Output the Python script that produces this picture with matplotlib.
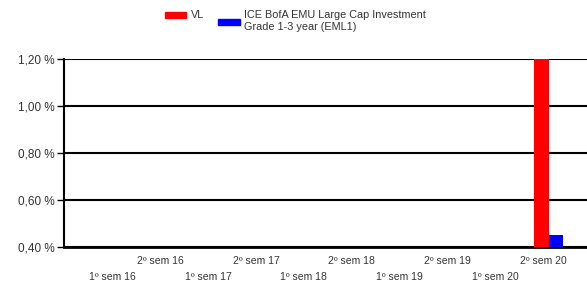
import matplotlib
matplotlib.use("Agg")
import matplotlib.pyplot as plt
from matplotlib.patches import Rectangle
import numpy as np

categories = ["1º sem 16", "2º sem 16", "1º sem 17", "2º sem 17", "1º sem 18",
              "2º sem 18", "1º sem 19", "2º sem 19", "1º sem 20", "2º sem 20"]
vl = [None, None, None, None, None, None, None, None, None, 1.25]
bench = [None, None, None, None, None, None, None, None, None, 0.45]
yticks = [0.40, 0.60, 0.80, 1.00, 1.20]
ytick_labels = ["0,40 %", "0,60 %", "0,80 %", "1,00 %", "1,20 %"]
series_names = ["VL", "ICE BofA EMU Large Cap Investment\nGrade 1-3 year (EML1)"]
colors = ["#ff0000", "#0000ff"]

plt.rcParams['font.family'] = ['Liberation Sans', 'DejaVu Sans']
fig = plt.figure(figsize=(5.87, 2.84), dpi=100)
ax = fig.add_axes([64/587, 1 - 246.7/284, 1 - 64/587, (246.7 - 59)/284])

x = np.arange(len(categories))
w = 0.3
for i in range(len(categories)):
    if vl[i] is not None:
        ax.bar(x[i] - 0.05, vl[i] - 0.40, w, bottom=0.40, color=colors[0], zorder=3)
    if bench[i] is not None:
        ax.bar(x[i] + 0.25, bench[i] - 0.40, w, bottom=0.40, color=colors[1], zorder=3)

ax.set_ylim(0.40, 1.20)
ax.set_xlim(-1, 9.9)
ax.set_yticks(yticks)
ax.set_yticklabels(ytick_labels, fontsize=8.5, color="#333333")
ax.tick_params(axis='y', length=5, width=1, color='black', pad=2)
for yv in yticks:
    ax.axhline(yv, color='black', lw=1.5, zorder=2)

ax.set_xticks(x[0::2])
ax.set_xticklabels(categories[0::2], fontsize=7.5, color="#333333")
ax.set_xticks(x[1::2], minor=True)
ax.set_xticklabels(categories[1::2], minor=True, fontsize=7.5, color="#333333")
ax.tick_params(axis='x', which='major', length=0, pad=18.5)
ax.tick_params(axis='x', which='minor', length=0, pad=7)

for s in ['top', 'right']:
    ax.spines[s].set_visible(False)
ax.spines['left'].set_linewidth(1.5)
ax.spines['bottom'].set_linewidth(2)

# legend
fig.patches.append(Rectangle((165/587, 1 - 18/284), 21/587, 6/284,
                             transform=fig.transFigure, color=colors[0]))
fig.text(191/587, 1 - 15/284, series_names[0], fontsize=7.8, color="#333333", va='center')
fig.patches.append(Rectangle((218/587, 1 - 25/284), 22/587, 6/284,
                             transform=fig.transFigure, color=colors[1]))
fig.text(244/587, 1 - 21/284, series_names[1], fontsize=7.8, color="#333333", va='center',
         linespacing=1.15)

fig.savefig("out.png", dpi=100)
